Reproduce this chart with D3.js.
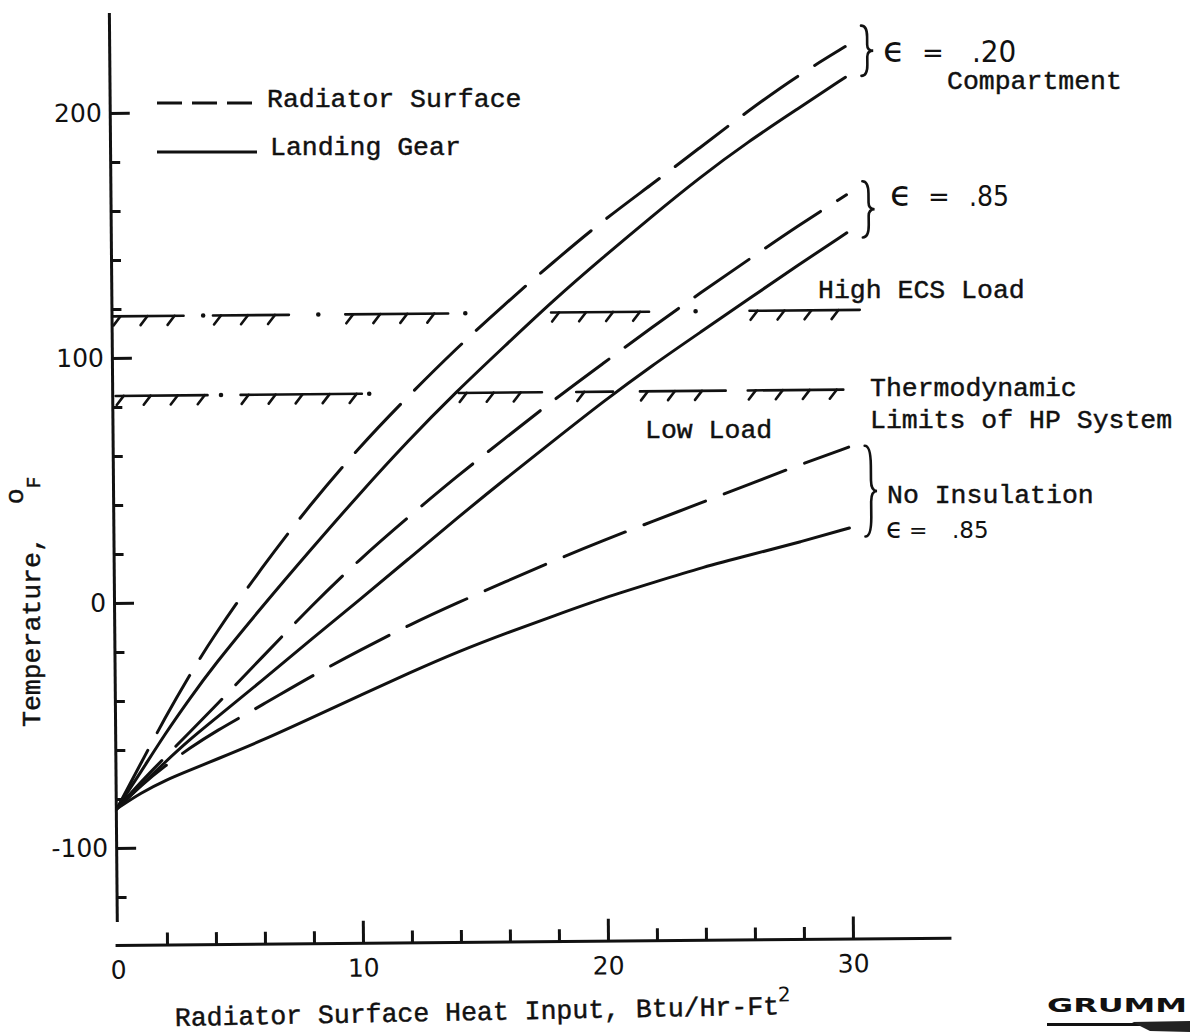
<!DOCTYPE html>
<html>
<head>
<meta charset="utf-8">
<script src="https://cdn.jsdelivr.net/npm/d3@7"></script>
<style>
  html, body { margin: 0; padding: 0; background: #fff; }
  svg { display: block; }
  .mono { font-family: "Liberation Mono", "DejaVu Sans Mono", monospace; font-size: 26.5px; fill: #111; stroke: #111; stroke-width: 0.45px; white-space: pre; }
  .num { font-family: "DejaVu Sans", sans-serif; fill: #111; stroke: none; }
  .narrow { font-family: "Liberation Sans Narrow", "DejaVu Sans Condensed", "Liberation Sans", sans-serif; fill: #111; stroke: none; }
</style>
</head>
<body>
<svg id="chart" width="1190" height="1035"></svg>
<script>
// Radiator surface heat input, Btu/Hr-Ft^2
const heatInput = [0, 1, 2, 3, 4, 6, 8, 10, 12, 14, 16, 18, 20, 22, 24, 26, 28, 30];

// Temperatures, deg F
const radiatorE20 = [-84, -65.5, -47, -30, -14, 14, 39.5, 62.5, 83, 102.5, 120.5, 137.5, 154, 168.5, 183.5, 198.5, 212.5, 224.5];
const gearE20     = [-84, -69, -53.5, -39.5, -26, -2, 21, 43.5, 65, 85, 103.5, 122, 139, 155.5, 171.5, 186, 199, 212];
const radiatorE85 = [-84, -73, -63, -53, -43, -22.5, -2, 17, 34, 50.5, 66, 81.5, 96, 110.5, 124.5, 138, 151.5, 164];
const gearE85     = [-84, -74.5, -65, -56, -48, -32, -15.5, 0.5, 17, 33.5, 49.5, 65, 80.5, 95, 108.5, 122, 135.5, 148.5];
const radiatorBare = [-84, -74.5, -66.5, -59.5, -53, -42, -30.5, -20, -10, -1, 7.5, 16, 24, 31.5, 39, 46.5, 54, 61];
const gearBare     = [-84, -77.5, -72.5, -68.5, -64.5, -56.5, -47.5, -38.5, -29.5, -21, -13.5, -6.5, 0.5, 6.5, 12.5, 17.5, 22.5, 28];

// Thermodynamic limits of the heat-pump system, deg F
const highLoadLimit = 117;
const lowLoadLimit = 84.5;
// Drawn runs and dots of each limit line, in heat-input units
const highLoadRuns = [[0, 2.9], [4.1, 7.2], [9.5, 13.7], [17.9, 21.9], [26, 30.5]];
const highLoadDots = [3.7, 8.4, 14.4, 23.8];
const lowLoadRuns = [[0.1, 3.85], [5.2, 10.15], [14.1, 17.5], [18.9, 20.4], [21.5, 25.0], [25.9, 29.8]];
const lowLoadDots = [4.4, 10.45];

// Axis ticks
const xMajorTicks = [0, 10, 20, 30];
const xMinorTicks = [2, 4, 6, 8, 12, 14, 16, 18, 22, 24, 26, 28];
const yMajorTicks = [-100, 0, 100, 200];
const yMinorTicks = [-120, -80, -60, -40, -20, 20, 40, 60, 80, 120, 140, 160, 180];

// Brace spans (deg F) grouping each radiator / gear pair
const braceSpans = [[233, 212.5], [169.5, 146.5], [61.5, 24.5]];

// Text
const legendLabels = ["Radiator Surface", "Landing Gear"];
const xTitle = "Radiator Surface Heat Input, Btu/Hr-Ft";
const yTitle = "Temperature,";
const emissivityLabels = [".20", ".85", ".85"];

const svg = d3.select("#chart");
svg.append("rect").attr("width", 1190).attr("height", 1035).attr("fill", "#fff");

const x = d3.scaleLinear().domain([0, 30]).range([118, 853]);
const y = d3.scaleLinear().domain([-100, 200]).range([848, 113]);

// The plotting frame sits slightly tilted on the sheet
const plot = svg.append("g").attr("transform", "rotate(-0.5,117,945)");

// ---- Y axis
const yFull = d3.scaleLinear().domain([-130, 241]).range([y(-130), y(241)]);
const yAxisG = plot.append("g").attr("transform", "translate(117,0)");
yAxisG.call(d3.axisLeft(yFull).tickValues(yMajorTicks).tickSizeInner(-20).tickSizeOuter(0)
  .tickPadding(8).tickFormat(d => String(d)));
yAxisG.append("g").call(d3.axisLeft(y).tickValues(yMinorTicks).tickSizeInner(-10).tickSizeOuter(0).tickFormat(""))
  .select(".domain").remove();

// ---- X axis
const xFull = d3.scaleLinear().domain([-0.12, 34]).range([x(-0.12), x(34)]);
const xAxisG = plot.append("g").attr("transform", "translate(0,945)");
xAxisG.call(d3.axisBottom(xFull).tickValues(xMajorTicks).tickSizeInner(-22).tickSizeOuter(0)
  .tickPadding(16).tickFormat(d => String(d)));
xAxisG.selectAll(".tick").filter(d => d === 0).select("line").remove();
xAxisG.append("g").call(d3.axisBottom(x).tickValues(xMinorTicks).tickSizeInner(-12).tickSizeOuter(0).tickFormat(""))
  .select(".domain").remove();

plot.selectAll(".domain").attr("stroke", "#111").attr("stroke-width", 3);
plot.selectAll(".tick line").attr("stroke", "#111").attr("stroke-width", 3);
plot.selectAll(".tick text").attr("class", "num").attr("font-size", 25).attr("fill", "#111")
  .attr("font-family", "DejaVu Sans, sans-serif");

// ---- Temperature curves
const line = d3.line().x(d => x(d[0])).y(d => y(d[1])).curve(d3.curveBasis);
const series = [
  { values: radiatorE20, dashed: true },
  { values: gearE20, dashed: false },
  { values: radiatorE85, dashed: true },
  { values: gearE85, dashed: false },
  { values: radiatorBare, dashed: true },
  { values: gearBare, dashed: false }
];
plot.append("g").selectAll("path").data(series).join("path")
  .attr("d", s => line(heatInput.map((q, i) => [q, s.values[i]])))
  .attr("fill", "none").attr("stroke", "#111").attr("stroke-width", 3)
  .attr("stroke-linecap", "round")
  .attr("stroke-dasharray", s => s.dashed ? "66 20" : null);

// ---- Hatched limit lines
function limitLine(level, runs, dots) {
  const g = plot.append("g").attr("stroke", "#111").attr("stroke-width", 2.6).attr("stroke-linecap", "round");
  const yy = y(level);
  g.selectAll("line.run").data(runs).join("line").attr("class", "run")
    .attr("x1", r => x(r[0])).attr("x2", r => x(r[1])).attr("y1", yy).attr("y2", yy);
  const hatches = [];
  runs.forEach(r => {
    for (let px = x(r[0]) + 8; px <= x(r[1]) - 2; px += 27) hatches.push(px);
  });
  g.selectAll("line.hatch").data(hatches).join("line").attr("class", "hatch")
    .attr("x1", d => d).attr("y1", yy).attr("x2", d => d - 7).attr("y2", yy + 9);
  g.selectAll("circle").data(dots).join("circle")
    .attr("cx", d => x(d)).attr("cy", yy).attr("r", 2.3).attr("fill", "#111").attr("stroke", "none");
}
limitLine(highLoadLimit, highLoadRuns, highLoadDots);
limitLine(lowLoadLimit, lowLoadRuns, lowLoadDots);

// ---- Braces
function bracePath(x0, y0, y1, w) {
  const h = y1 - y0, ym = (y0 + y1) / 2, xm = x0 + w / 2;
  return `M${x0},${y0} Q${xm},${y0} ${xm},${y0 + h * 0.22} L${xm},${ym - h * 0.12} ` +
         `Q${xm},${ym} ${x0 + w},${ym} Q${xm},${ym} ${xm},${ym + h * 0.12} ` +
         `L${xm},${y1 - h * 0.22} Q${xm},${y1} ${x0},${y1}`;
}
plot.append("g").selectAll("path").data(braceSpans).join("path")
  .attr("d", s => bracePath(x(30) + 16, y(s[0]), y(s[1]), 12))
  .attr("fill", "none").attr("stroke", "#111").attr("stroke-width", 2.6).attr("stroke-linecap", "round");

// ---- Legend
const legend = svg.append("g");
legend.append("line").attr("x1", 157).attr("x2", 255).attr("y1", 103).attr("y2", 103)
  .attr("stroke", "#111").attr("stroke-width", 3.2).attr("stroke-dasharray", "25 10");
legend.append("line").attr("x1", 157).attr("x2", 257).attr("y1", 152).attr("y2", 152)
  .attr("stroke", "#111").attr("stroke-width", 3);
legend.append("text").attr("class", "mono").attr("x", 267).attr("y", 107).text(legendLabels[0]);
legend.append("text").attr("class", "mono").attr("x", 270).attr("y", 155).text(legendLabels[1]);

// ---- Annotations
const notes = svg.append("g");
notes.append("text").attr("class", "mono").attr("x", 818).attr("y", 298).text("High ECS Load");
notes.append("text").attr("class", "mono").attr("x", 870).attr("y", 396).text("Thermodynamic");
notes.append("text").attr("class", "mono").attr("x", 870).attr("y", 428).text("Limits of HP System");
notes.append("text").attr("class", "mono").attr("x", 645).attr("y", 438).text("Low Load");
notes.append("text").attr("class", "mono").attr("x", 947).attr("y", 89).text("Compartment");
notes.append("text").attr("class", "mono").attr("x", 887).attr("y", 503).text("No Insulation");

// emissivity labels: epsilon, equals sign, value
function emissivity(xe, xq, xv, base, eSize, qSize, vSize, label, narrow) {
  const t = notes.append("text").attr("y", base);
  t.append("tspan").attr("class", "num").attr("x", xe).attr("font-size", eSize).text("\u03F5");
  t.append("tspan").attr("class", "num").attr("x", xq).attr("font-size", qSize).text("=");
  t.append("tspan").attr("class", narrow ? "narrow" : "num").attr("x", xv).attr("font-size", vSize).text(label);
}
emissivity(883, 922, 972, 62, 36, 26, 31, emissivityLabels[0], true);
emissivity(890, 928, 969, 206, 36, 26, 28, emissivityLabels[1], true);
emissivity(886, 909, 952, 538, 28, 22, 23, emissivityLabels[2], false);

// ---- Axis titles
const xt = svg.append("text").attr("class", "mono").attr("x", 175).attr("y", 1026)
  .attr("transform", "rotate(-1.1,175,1026)").text(xTitle);
xt.append("tspan").attr("class", "num").attr("font-size", 20).attr("dy", -13).attr("dx", -1).text("2");

const yt = svg.append("text").attr("class", "mono").attr("font-size", 22)
  .attr("transform", "translate(40,727) rotate(-90)");
yt.append("tspan").text(yTitle + "  ");
yt.append("tspan").attr("dy", -17).text("o");
yt.append("tspan").attr("dy", 17).attr("font-size", 20).text("F");

// ---- Maker's mark, running off the sheet edge
const mark = svg.append("g");
mark.append("text").attr("x", 1047).attr("y", 1012)
  .attr("font-family", "DejaVu Sans, sans-serif").attr("font-weight", "bold").attr("font-size", 19)
  .attr("textLength", 140).attr("lengthAdjust", "spacingAndGlyphs").attr("fill", "#111").text("GRUMM");
mark.append("rect").attr("x", 1047).attr("y", 1023).attr("width", 143).attr("height", 3).attr("fill", "#111");
mark.append("path").attr("d", "M1132,1022 L1190,1021 L1190,1032 L1150,1031 Z").attr("fill", "#222");
</script>
</body>
</html>
